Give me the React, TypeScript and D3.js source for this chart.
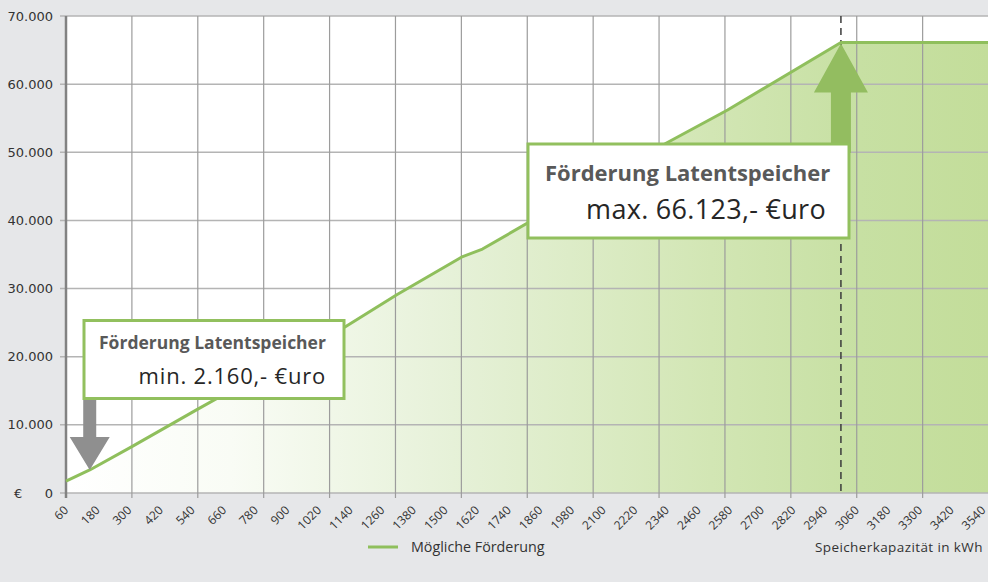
import React from 'react';
import * as d3 from 'd3';

// Speicherkapazität (kWh) und mögliche Förderung (€)
const kwhPoints = [60, 150, 310, 555, 1120, 1315, 1565, 1640, 2340, 2570, 3000, 3560];
const foerderung = [1750, 3380, 6800, 12200, 24400, 29100, 34700, 35800, 51400, 56200, 66123, 66123];

const xLabels = d3.range(60, 3541, 120);
const yTicks = [0, 10000, 20000, 30000, 40000, 50000, 60000, 70000];
const gridKwh = d3.range(60, 3560, 250);
const maxKwh = 3000;

const W = 988;
const H = 582;
const margin = { top: 16, right: 0, bottom: 89, left: 66 };
const FONT = "'Open Sans', 'Noto Sans', sans-serif";

const App: React.FC = () => {
  const x = d3.scaleLinear().domain([60, 3558]).range([margin.left, W - margin.right]);
  const y = d3.scaleLinear().domain([0, 70000]).range([H - margin.bottom, margin.top]);
  const data = kwhPoints.map((k, i) => ({ k, v: foerderung[i] }));

  const line = d3.line<{ k: number; v: number }>().x(d => x(d.k)).y(d => y(d.v));
  const area = d3.area<{ k: number; v: number }>().x(d => x(d.k)).y0(y(0)).y1(d => y(d.v));

  const fmt = (v: number) => (v === 0 ? '0' : d3.format(',')(v).replace(/,/g, '.'));

  // Pfeilpositionen aus den Daten
  const minX = x(150);
  const minY = y(3380);
  const maxX = x(maxKwh);
  const maxY = y(66123);

  return (
    <svg width={W} height={H} style={{ position: 'absolute', left: 0, top: 0 }} fontFamily={FONT}>
      <defs>
        <linearGradient id="fillGrad" gradientUnits="userSpaceOnUse" x1={margin.left} x2={W} y1={0} y2={0}>
          <stop offset="0%" stopColor="#ffffff" />
          <stop offset="18%" stopColor="#f9fcf5" />
          <stop offset="42%" stopColor="#e6f1d8" />
          <stop offset="70%" stopColor="#d2e6b4" />
          <stop offset="86%" stopColor="#c7e0a3" />
          <stop offset="100%" stopColor="#c3dd9a" />
        </linearGradient>
      </defs>
      <rect x={0} y={0} width={W} height={H} fill="#e6e7e9" />
      <rect x={margin.left} y={margin.top} width={W - margin.left} height={y(0) - margin.top} fill="#ffffff" />
      <path d={area(data) || ''} fill="url(#fillGrad)" />

      {/* Gitternetz */}
      {yTicks.map(t => (
        <line key={'h' + t} x1={margin.left - 6} x2={W} y1={y(t)} y2={y(t)} stroke="#b4b4b4" strokeWidth={1.5} />
      ))}
      {gridKwh.map(k => (
        <line key={'v' + k} x1={x(k)} x2={x(k)} y1={margin.top} y2={y(0) + 5} stroke="#9c9c9c" strokeWidth={1.2} />
      ))}
      <line x1={margin.left} x2={margin.left} y1={margin.top} y2={y(0) + 5} stroke="#828282" strokeWidth={2.5} />

      {/* Maximum-Linie */}
      <line x1={maxX} x2={maxX} y1={margin.top} y2={y(0)} stroke="#3c3c3c" strokeWidth={1.5} strokeDasharray="7,5" />

      <path d={line(data) || ''} fill="none" stroke="#8fbf5c" strokeWidth={3} strokeLinejoin="round" />

      {/* Y-Achse */}
      {yTicks.map(t => (
        <text key={'yl' + t} x={53} y={y(t) + 4.5} textAnchor="end" fontSize={13} fontFamily="'DejaVu Sans', sans-serif" fill="#333">{fmt(t)}</text>
      ))}
      <text x={14} y={y(0) + 4.5} fontSize={13} fontFamily="'DejaVu Sans', sans-serif" fill="#333">€</text>

      {/* X-Achse */}
      {xLabels.map(k => (
        <g key={'xl' + k} transform={`translate(${x(k) + 3},${y(0) + 18})`}>
          <text transform="rotate(-45)" textAnchor="end" fontSize={12} fill="#333">{k}</text>
        </g>
      ))}

      {/* Pfeil Minimum */}
      <path
        d={`M${minX - 6.5},${y(0) - 95} L${minX + 6.5},${y(0) - 95} L${minX + 6.5},${minY - 33} L${minX + 20},${minY - 33} L${minX},${minY} L${minX - 20},${minY - 33} L${minX - 6.5},${minY - 33} Z`}
        fill="#8f8f8f"
      />
      <rect x={84} y={320.5} width={260} height={78} fill="#ffffff" stroke="#92c05e" strokeWidth={3} />
      <text x={99} y={349} fontSize={17.5} fontWeight="bold" fill="#595959">Förderung Latentspeicher</text>
      <text x={326} y={384} textAnchor="end" fontSize={22} letterSpacing={0.8} fill="#262626">min. 2.160,- €uro</text>

      {/* Pfeil Maximum */}
      <path
        d={`M${maxX - 10},${y(0) - 340} L${maxX + 10},${y(0) - 340} L${maxX + 10},${maxY + 50} L${maxX + 27},${maxY + 50} L${maxX},${maxY + 1} L${maxX - 27},${maxY + 50} L${maxX - 10},${maxY + 50} Z`}
        fill="#93bd60"
      />
      <rect x={528} y={144} width={321} height={94} fill="#ffffff" stroke="#92c05e" strokeWidth={3} />
      <text x={545} y={181} fontSize={22} fontWeight="bold" fill="#595959">Förderung Latentspeicher</text>
      <text x={826} y={219} textAnchor="end" fontSize={27} letterSpacing={0.3} fill="#262626">max. 66.123,- €uro</text>

      {/* Legende */}
      <line x1={368} x2={398} y1={547} y2={547} stroke="#8fbf5c" strokeWidth={3} />
      <text x={411} y={552} fontSize={14.3} fill="#333">Mögliche Förderung</text>
      <text x={815} y={552} fontSize={13.5} fill="#333" letterSpacing={0.4}>Speicherkapazität in kWh</text>
    </svg>
  );
};

export default App;
